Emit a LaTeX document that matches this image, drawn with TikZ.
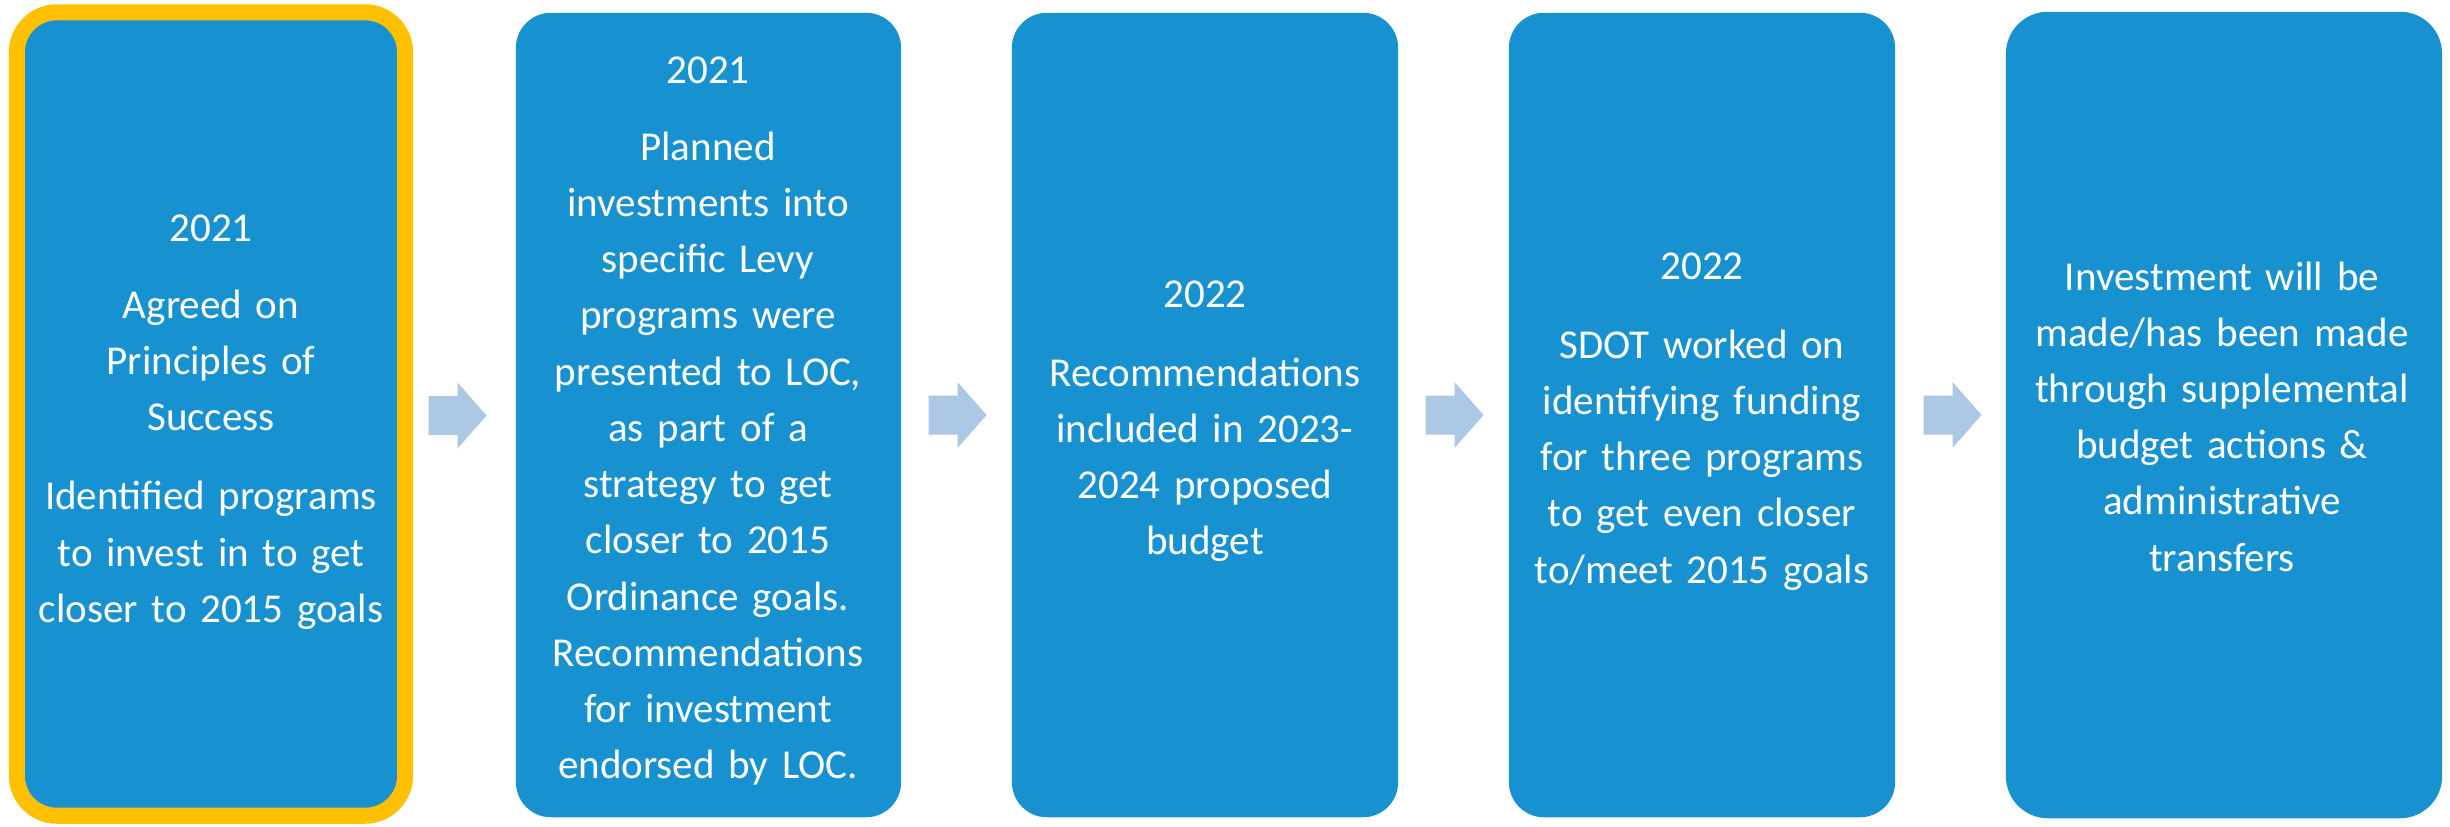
\documentclass[tikz,border=0pt]{standalone}
\usepackage{fontspec}
\setmainfont{Carlito}
\usetikzlibrary{calc}
\definecolor{boxblue}{HTML}{1891D0}
\definecolor{gold}{HTML}{FFC000}
\definecolor{arrowblue}{HTML}{ADC8E5}
\begin{document}
\begin{tikzpicture}[x=0.01cm,y=-0.01cm,
  stage/.style={fill=boxblue, rounded corners=0.35cm, inner sep=0pt, outer sep=0pt, minimum height=8.04cm},
  stagetext/.style={text=white, text width=4.3cm, align=center, anchor=base, inner sep=0pt,
    font=\fontsize{0.41cm}{0.562cm}\selectfont},
  blockarrow/.pic={\fill[arrowblue] (-29,-19.5) -- (0,-19.5) -- (0,-33) -- (29,0) -- (0,33) -- (0,19.5) -- (-29,19.5) -- cycle;}
]
\useasboundingbox (0,0) rectangle (2450,826);
\fill[white] (0,0) rectangle (2450,826);

% boxes
\node[stage, draw=gold, line width=0.16cm, rounded corners=0.4cm, minimum width=3.88cm, minimum height=8.03cm] (b1) at (211,414) {};
\node[stage, minimum width=3.85cm] (b2) at (708.5,415) {};
\node[stage, minimum width=3.86cm] (b3) at (1205,415) {};
\node[stage, minimum width=3.86cm] (b4) at (1702,415) {};
\node[stage, rounded corners=0.42cm, minimum width=4.36cm, minimum height=8.06cm] (b5) at (2224,415) {};

% texts
\node[stagetext] (t1) at (211,241) {2021\\[0.21cm]Agreed on\\Principles of\\Success\\[0.23cm]Identified programs\\to invest in to get\\closer to 2015 goals};
\node[stagetext] (t2) at (708,83) {2021\\[0.21cm]Planned\\investments into\\specific Levy\\programs were\\presented to LOC,\\as part of a\\strategy to get\\closer to 2015\\Ordinance goals.\\Recommendations\\for investment\\endorsed by LOC.};
\node[stagetext] (t3) at (1205,307) {2022\\[0.23cm]Recommendations\\included in 2023-\\2024 proposed\\budget};
\node[stagetext] (t4) at (1702,279) {2022\\[0.23cm]SDOT worked on\\identifying funding\\for three programs\\to get even closer\\to/meet 2015 goals};
\node[stagetext] (t5) at (2222,290) {Investment will be\\made/has been made\\through supplemental\\budget actions \&\\administrative\\transfers};

% arrows
\pic at ($(b1.east)!0.5!(b2.west)+(-3,1)$) {blockarrow};
\pic at ($(b2.east)!0.5!(b3.west)+(1,0)$) {blockarrow};
\pic at ($(b3.east)!0.5!(b4.west)+(1,0)$) {blockarrow};
\pic at ($(b4.east)!0.5!(b5.west)+(2,0)$) {blockarrow};
\end{tikzpicture}
\end{document}
